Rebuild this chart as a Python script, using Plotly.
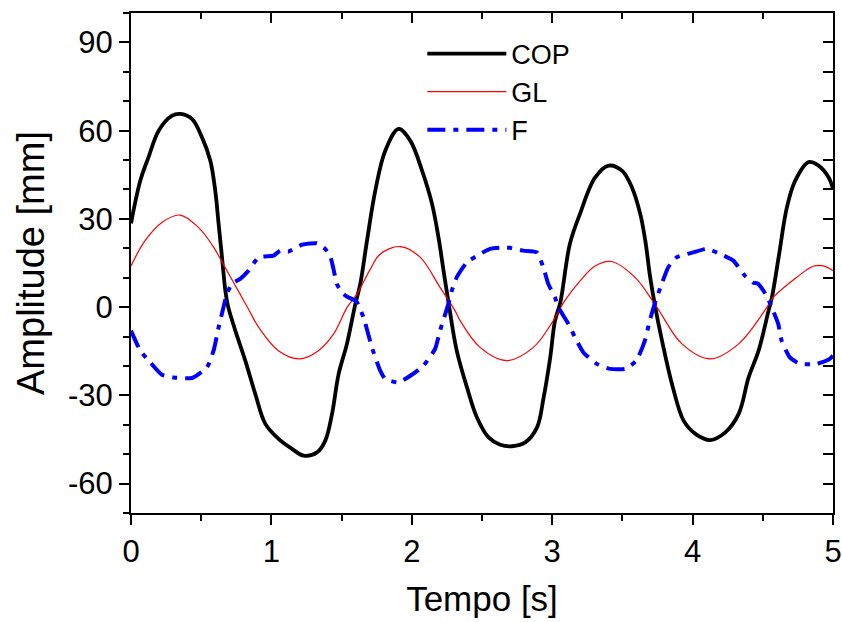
import plotly.graph_objects as go

# ---- data ----
cop_t = [0.0, 0.066, 0.125, 0.197, 0.29, 0.351, 0.434, 0.505, 0.565, 0.60, 0.624, 0.648, 0.672, 0.69,
         0.743, 0.814, 0.885, 0.957, 1.051, 1.147, 1.23, 1.325, 1.384, 1.432, 1.479, 1.538, 1.598,
         1.633, 1.681, 1.74, 1.811, 1.906, 1.989, 2.073, 2.144, 2.19, 2.226, 2.265, 2.32, 2.393, 2.464,
         2.547, 2.63, 2.714, 2.808, 2.892, 2.939, 2.986, 3.02, 3.058, 3.126, 3.198, 3.305, 3.402, 3.497,
         3.568, 3.627, 3.663, 3.698, 3.734, 3.782, 3.853, 3.936, 4.02, 4.126, 4.233, 4.328, 4.399, 4.47,
         4.541, 4.565, 4.613, 4.672, 4.731, 4.826, 4.897, 4.969, 5.0]
cop_v = [28.5, 43, 51, 60, 65, 65.7, 64, 57.8, 49.8, 39.6, 28.3, 17, 5.6, 0.5,
         -8, -18.2, -29.5, -39.7, -44.8, -48.2, -50.5, -49.4, -45.4, -36.3, -22.7, -12.5, 1.1,
         7.9, 22.6, 39.6, 53.2, 60.6, 56.6, 46.4, 35.1, 23.7, 12.4, 0.5, -14.8, -27.3, -37.5,
         -44.3, -46.8, -47.3, -46, -40.9, -30.7, -17.1, -4.6, 1.6, 21.5, 31.7, 44, 48.1, 46.4,
         40.7, 31.7, 22.6, 10.1, 0, -11.4, -26.1, -38.6, -43.1, -45.2, -42.6, -36.3, -23.9, -14.8,
         -1.2, 3.3, 17, 34, 43, 49.3, 48.1, 44.1, 40.2]

gl_t = [0.0, 0.1, 0.22, 0.35, 0.48, 0.58, 0.67, 0.77, 0.84, 0.91, 1.05, 1.2, 1.335, 1.443, 1.54,
        1.61, 1.70, 1.774, 1.917, 2.059, 2.201, 2.308, 2.344, 2.486, 2.676, 2.866, 3.008, 3.09,
        3.2, 3.305, 3.42, 3.59, 3.745, 3.924, 4.126, 4.328, 4.53, 4.574, 4.74, 4.86, 4.93, 5.0]
gl_v = [14, 22.6, 28.8, 31.3, 27.1, 21, 13.5, 5, -1, -6.9, -14.8, -17.6, -14.8, -9.1, 0,
        4.5, 12.5, 18, 20.6, 17, 6.7, -1.2, -4.6, -13.7, -18.2, -13.7, -4.6, 2.2,
        9, 14, 15.5, 10.1, 0, -12.5, -17.6, -12.5, 0, 3.3, 10.1, 13.9, 14, 12.4]

f_t = [0.0, 0.066, 0.137, 0.22, 0.303, 0.434, 0.541, 0.588, 0.624, 0.659, 0.683, 0.719, 0.778,
       0.837, 0.908, 1.015, 1.063, 1.122, 1.217, 1.324, 1.383, 1.418, 1.442, 1.466, 1.502, 1.537,
       1.597, 1.61, 1.656, 1.716, 1.775, 1.81, 1.905, 2.0, 2.083, 2.166, 2.201, 2.261, 2.285, 2.32,
       2.392, 2.487, 2.558, 2.676, 2.795, 2.89, 2.937, 2.972, 3.02, 3.043, 3.115, 3.174, 3.222,
       3.317, 3.412, 3.52, 3.6, 3.66, 3.695, 3.73, 3.78, 3.826, 3.886, 4.005, 4.1, 4.195, 4.29,
       4.372, 4.43, 4.467, 4.527, 4.563, 4.61, 4.634, 4.693, 4.764, 4.883, 4.977, 5.0]
f_v = [-8, -14.8, -18.8, -23, -23.9, -24.1, -20.5, -14.8, -6.9, 0, 4.5, 7.9, 9.6,
       12.4, 16.9, 17.5, 19.2, 18.9, 21.2, 21.7, 19.8, 17.5, 13, 7.9, 5, 3.6,
       2.2, 1.6, -3.5, -13.7, -21.6, -24.4, -25.6, -23, -19.9, -14.2, -8, 1.1, 5.6, 10.1,
       15.2, 18.1, 19.8, 20.3, 19.2, 18.6, 13.5, 7.9, 3.3, 0, -5.7, -11.4, -15.4,
       -19.3, -21, -21, -18.2, -11.4, -4.6, 1.1, 7.9, 13.5, 16.9, 18.6, 19.8, 18.1, 15.8,
       10.7, 8.4, 7.9, 3.9, 0, -5.7, -11.4, -17.1, -19.3, -19.3, -17.6, -16.5]

y_tickvals = [-60, -30, 0, 30, 60, 90]
y_ticktext = ["-60", "-30", "0", "30", "60", "90"]
x_tickvals = [0, 1, 2, 3, 4, 5]
x_ticktext = ["0", "1", "2", "3", "4", "5"]

FONT = "Liberation Sans, Arial, sans-serif"

fig = go.Figure()
fig.add_trace(go.Scatter(x=cop_t, y=cop_v, name="COP", mode="lines",
                         line=dict(color="black", width=3.8, shape="spline", smoothing=1.0)))
fig.add_trace(go.Scatter(x=gl_t, y=gl_v, name="GL", mode="lines",
                         line=dict(color="#ff0000", width=1.2, shape="spline", smoothing=1.0)))
fig.add_trace(go.Scatter(x=f_t, y=f_v, name="F", mode="lines",
                         line=dict(color="#0000ff", width=4, dash="18px,8px,5px,8px",
                                   shape="spline", smoothing=0.5)))
# helper trace to create the mirrored (top / right) axes
fig.add_trace(go.Scatter(x=[], y=[], xaxis="x2", yaxis="y2", showlegend=False, hoverinfo="skip"))

fig.update_layout(
    width=842, height=622,
    margin=dict(l=131, r=9, t=13, b=109, autoexpand=False),
    paper_bgcolor="white", plot_bgcolor="white",
    font=dict(family=FONT, size=30, color="black"),
    showlegend=True,
    legend=dict(x=0.415, y=0.967, xanchor="left", yanchor="top",
                bgcolor="rgba(0,0,0,0)", font=dict(size=27), itemwidth=79,
                tracegroupgap=0),
    xaxis=dict(range=[0, 5], showgrid=False, zeroline=False, showline=True, automargin=False,
               linecolor="black", linewidth=2, ticks="outside", ticklen=10, tickwidth=2,
               tickcolor="black", tickvals=x_tickvals, ticktext=x_ticktext,
               tickfont=dict(size=31),
               minor=dict(dtick=0.5, tick0=0, ticks="outside", ticklen=6, tickwidth=2, tickcolor="black"),
               title=dict(text="Tempo [s]", font=dict(size=35), standoff=18)),
    yaxis=dict(range=[-70, 100], showgrid=False, zeroline=False, showline=True, automargin=False,
               linecolor="black", linewidth=2, ticks="outside", ticklen=10, tickwidth=2,
               tickcolor="black", tickvals=y_tickvals, ticktext=y_ticktext,
               tickfont=dict(size=31),
               minor=dict(dtick=10, tick0=0, ticks="outside", ticklen=6, tickwidth=2, tickcolor="black"),
               title=dict(text="Amplitude [mm]", font=dict(size=38), standoff=12)),
    xaxis2=dict(range=[0, 5], overlaying="x", side="top", showgrid=False, zeroline=False,
                automargin=False,
                showline=True, linecolor="black", linewidth=2, ticks="inside", ticklen=10,
                tickwidth=2, tickcolor="black", dtick=1, tick0=0, showticklabels=False,
                minor=dict(dtick=0.5, tick0=0, ticks="inside", ticklen=6, tickwidth=2, tickcolor="black")),
    yaxis2=dict(range=[-70, 100], overlaying="y", side="right", showgrid=False, zeroline=False,
                automargin=False,
                showline=True, linecolor="black", linewidth=2, ticks="inside", ticklen=10,
                tickwidth=2, tickcolor="black", dtick=10, tick0=0, showticklabels=False),
)

fig.write_html("out.html")
